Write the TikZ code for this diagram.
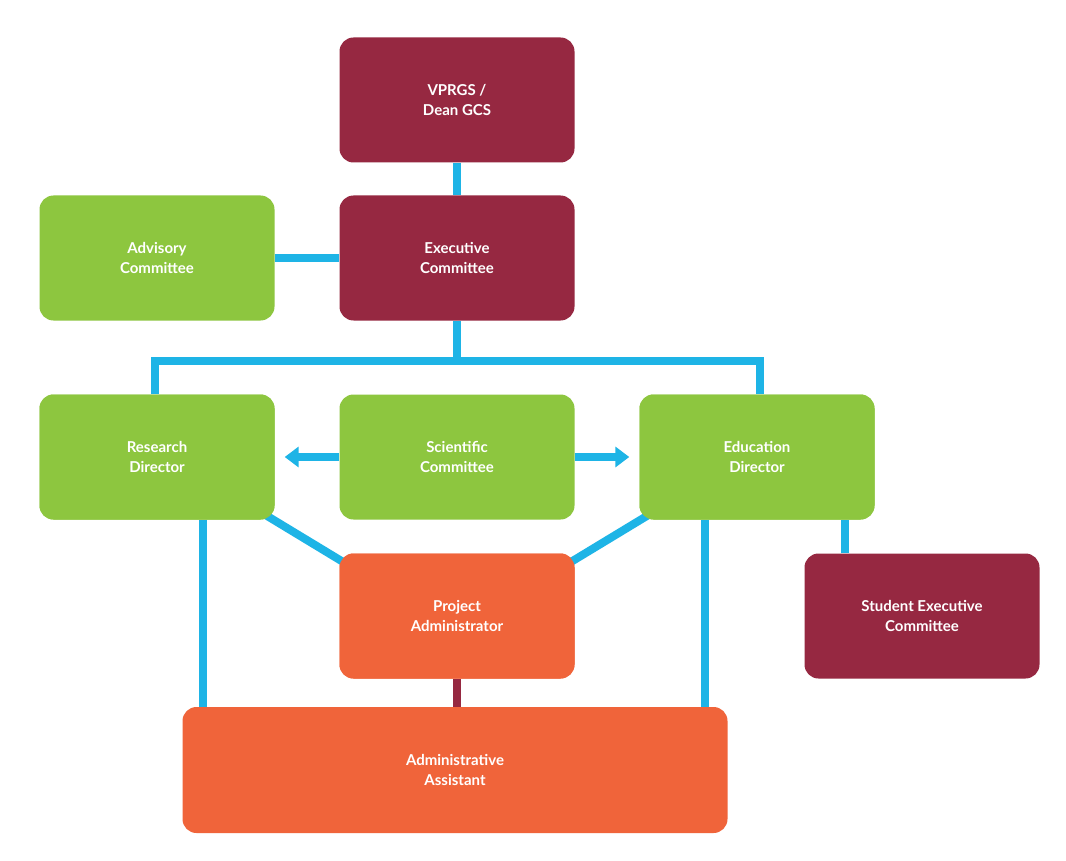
\documentclass[tikz,border=0pt]{standalone}
\usepackage{fontspec}
\setmainfont{Lato}
\usetikzlibrary{arrows.meta}
\definecolor{maroon}{HTML}{962841}
\definecolor{leaf}{HTML}{8DC63F}
\definecolor{rust}{HTML}{F0643A}
\definecolor{sky}{HTML}{1EB4E6}
\tikzset{
  box/.style={rounded corners=14pt,minimum width=235pt,minimum height=125pt,
    align=center,text=white,font=\fontsize{15}{20}\selectfont\bfseries,inner sep=0pt},
  link/.style={sky,line width=8pt},
}
\begin{document}
\begin{tikzpicture}[x=1pt,y=-1pt,>={Triangle[length=14pt,width=20pt]}]
	\useasboundingbox (0,0) rectangle (1066,861);
	\fill[white] (0,0) rectangle (1066,861);
	% boxes
	\node[box,fill=maroon] (vp) at (457,100) {VPRGS /\\Dean GCS};
	\node[box,fill=maroon] (ex) at (457,258) {Executive\\Committee};
	\node[box,fill=leaf] (adv) at (157,258) {Advisory\\Committee};
	\node[box,fill=leaf] (res) at (157,457) {Research\\Director};
	\node[box,fill=leaf] (sci) at (457,457) {Scientific\\Committee};
	\node[box,fill=leaf] (edu) at (757,457) {Education\\Director};
	\node[box,fill=rust] (pa) at (457,616) {Project\\Administrator};
	\node[box,fill=maroon] (sec) at (922,616) {Student Executive\\Committee};
	\node[box,fill=rust,minimum width=545pt,minimum height=126pt] (aa) at (455,770) {Administrative\\Assistant};
	% connectors
	\begin{scope}[on background layer/.style={}]
	\end{scope}
	\draw[link] (vp) -- (ex);
	\draw[link] (adv) -- (ex);
	\draw[link] (ex.south) -- ++(0,40) coordinate (mid);
	\draw[link] ([xshift=-2]res.north) |- (mid) -| ([xshift=3]edu.north);
	\draw[link,->,shorten >=10pt] (sci) -- (res);
	\draw[link,->,shorten >=10pt] (sci) -- (edu);
	\draw[link] (sec.north -| 845,0) -- (edu.south -| 845,0);
	\draw[maroon,line width=8pt] (pa) -- (pa |- aa.north);
	\draw[link] ([xshift=46]res.south) -- ([xshift=46]res.south |- aa.north);
	\draw[link] ([xshift=-52]edu.south) -- ([xshift=-52]edu.south |- aa.north);
	\draw[link,shorten <=-2pt,shorten >=-2pt] ([shift={(-8,-4)}]res.south east) -- ([shift={(6,10)}]pa.north west);
	\draw[link,shorten <=-2pt,shorten >=-2pt] ([shift={(8,-4)}]edu.south west) -- ([shift={(-6,10)}]pa.north east);
	% redraw boxes on top
	\node[box,fill=leaf] at (res) {Research\\Director};
	\node[box,fill=leaf] at (edu) {Education\\Director};
	\node[box,fill=rust] at (pa) {Project\\Administrator};
\end{tikzpicture}
\end{document}
